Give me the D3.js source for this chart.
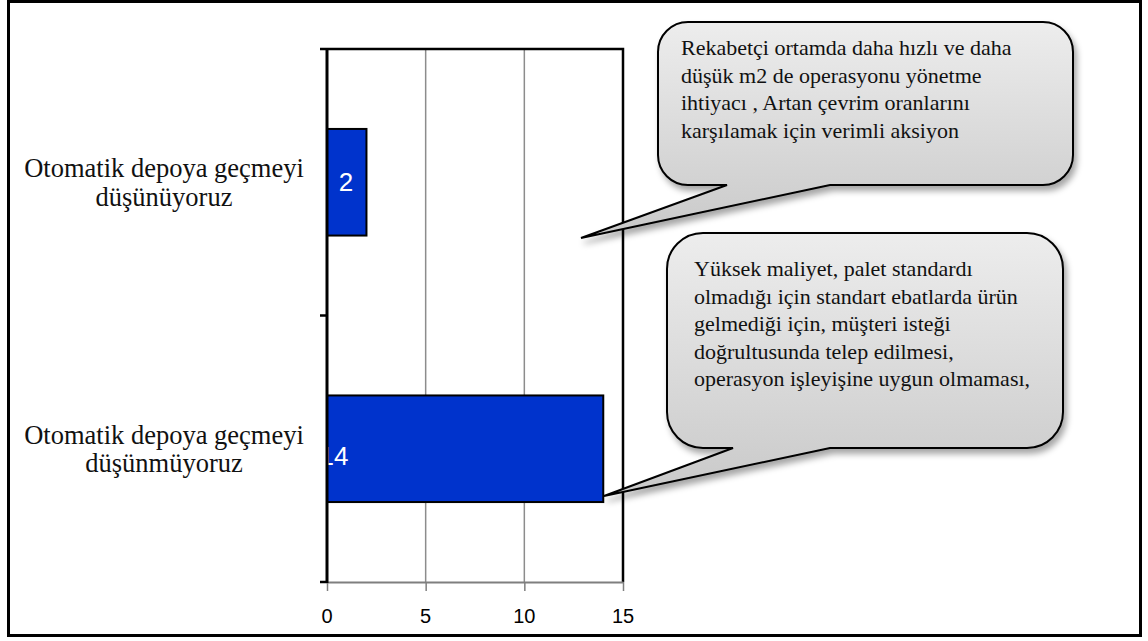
<!DOCTYPE html>
<html>
<head>
<meta charset="utf-8">
<script src="https://cdn.jsdelivr.net/npm/d3@7"></script>
<style>
  html, body { margin: 0; padding: 0; background: #fff; }
  svg { display: block; }
</style>
</head>
<body>
<svg id="chart" width="1148" height="641"></svg>
<script>
// Survey answers: horizontal bar chart with two explanatory callouts
const categories = ["Otomatik depoya geçmeyi düşünüyoruz", "Otomatik depoya geçmeyi düşünmüyoruz"];
const categoryLines = [["Otomatik depoya geçmeyi", "düşünüyoruz"], ["Otomatik depoya geçmeyi", "düşünmüyoruz"]];
const values = [2, 14];
const xTicks = [0, 5, 10, 15];
const calloutTexts = [
  ["Rekabetçi ortamda daha hızlı ve daha", "düşük m2 de operasyonu yönetme", "ihtiyacı , Artan çevrim oranlarını", "karşılamak için verimli aksiyon"],
  ["Yüksek maliyet, palet standardı", "olmadığı için standart ebatlarda ürün", "gelmediği için, müşteri isteği", "doğrultusunda telep edilmesi,", "operasyon işleyişine uygun olmaması,"]
];

const SERIF = "'Liberation Serif', 'Times New Roman', serif";
const SANS = "'Liberation Sans', Arial, sans-serif";
const svg = d3.select("#chart");

// defs: callout gradient and soft shadow
const defs = svg.append("defs");
const grad = defs.append("linearGradient").attr("id", "calloutFill")
  .attr("x1", 0).attr("y1", 0).attr("x2", 0).attr("y2", 1);
grad.append("stop").attr("offset", "0%").attr("stop-color", "#ededed");
grad.append("stop").attr("offset", "100%").attr("stop-color", "#c9c9c9");
const shadow = defs.append("filter").attr("id", "shadow")
  .attr("x", "-10%").attr("y", "-10%").attr("width", "130%").attr("height", "140%");
shadow.append("feDropShadow").attr("dx", 3).attr("dy", 5).attr("stdDeviation", 3)
  .attr("flood-color", "#000").attr("flood-opacity", 0.35);

// outer frame
svg.append("rect").attr("x", 8.5).attr("y", 1.5).attr("width", 1132).attr("height", 634)
  .attr("fill", "#fff").attr("stroke", "#000").attr("stroke-width", 3);

// scales
const plot = { left: 327, right: 623, top: 49, bottom: 582 };
const x = d3.scaleLinear().domain([0, 15]).range([plot.left, plot.right]);
const y = d3.scaleBand().domain(categories).range([plot.top, plot.bottom])
  .paddingInner(0.6).paddingOuter(0.3);

// vertical gridlines
svg.append("g").selectAll("line").data(xTicks.slice(1, -1)).join("line")
  .attr("x1", d => x(d)).attr("x2", d => x(d))
  .attr("y1", plot.top).attr("y2", plot.bottom)
  .attr("stroke", "#8c8c8c").attr("stroke-width", 1.5);

// plot border (top and right)
svg.append("path")
  .attr("d", `M${plot.left},${plot.top}H${plot.right}V${plot.bottom}`)
  .attr("fill", "none").attr("stroke", "#000").attr("stroke-width", 2.5);

// bottom value axis: line and ticks from d3.axisBottom, labels set below
const xAxis = svg.append("g").attr("transform", `translate(0,${plot.bottom})`)
  .call(d3.axisBottom(x).tickValues(xTicks).tickSize(9).tickSizeOuter(0).tickFormat(""));
xAxis.select(".domain").attr("stroke", "#7f7f7f").attr("stroke-width", 2);
xAxis.selectAll(".tick line").attr("stroke", "#7f7f7f").attr("stroke-width", 1.5);
xTicks.forEach(v => {
  svg.append("text")
    .attr("x", x(v)).attr("y", 623)
    .attr("text-anchor", "middle")
    .attr("font-family", SANS).attr("font-size", 20).attr("fill", "#000")
    .text(v);
});

// bars
svg.append("g").selectAll("rect").data(values).join("rect")
  .attr("x", x(0))
  .attr("y", (d, i) => y(categories[i]))
  .attr("width", d => x(d) - x(0))
  .attr("height", y.bandwidth())
  .attr("fill", "#0033cc").attr("stroke", "#000").attr("stroke-width", 2);

// value labels near the base of each bar
const labelNudge = [{ dx: 19, dy: 8.5 }, { dx: 7, dy: 16 }];
values.forEach((v, i) => {
  svg.append("text")
    .attr("x", x(0) + labelNudge[i].dx)
    .attr("y", y(categories[i]) + y.bandwidth() / 2 + labelNudge[i].dy)
    .attr("text-anchor", "middle")
    .attr("font-family", SANS).attr("font-size", 26).attr("fill", "#fff")
    .text(v);
});

// category axis line with ticks at band boundaries
const boundaries = [0, 1, 2].map(k => plot.top + k * y.step());
svg.append("line").attr("x1", x(0)).attr("x2", x(0))
  .attr("y1", plot.top - 1).attr("y2", plot.bottom + 1)
  .attr("stroke", "#000").attr("stroke-width", 3);
svg.append("g").selectAll("line").data(boundaries).join("line")
  .attr("x1", x(0) - 7).attr("x2", x(0))
  .attr("y1", d => d).attr("y2", d => d)
  .attr("stroke", "#000").attr("stroke-width", 2.5);

// category labels
categoryLines.forEach((lines, i) => {
  const cy = y(categories[i]) + y.bandwidth() / 2;
  const t = svg.append("text")
    .attr("text-anchor", "middle")
    .attr("font-family", SERIF).attr("font-size", 26.5).attr("fill", "#111");
  lines.forEach((l, j) => {
    t.append("tspan").attr("x", 164).attr("y", cy - 5 + j * 28.5).text(l);
  });
});

// callouts: rounded box with a pointer from its bottom edge to the bar
const callouts = [
  { box: [658, 22, 1073, 185], r: 30, base: [727, 830], tip: [581, 238], text: [681, 55] },
  { box: [667, 233, 1063, 448], r: 36, base: [733, 830], tip: [604, 496], text: [694, 276] }
];
function calloutPath(c) {
  const [x0, y0, x1, y1] = c.box, r = c.r;
  return `M${x0 + r},${y0}H${x1 - r}A${r},${r} 0 0 1 ${x1},${y0 + r}` +
    `V${y1 - r}A${r},${r} 0 0 1 ${x1 - r},${y1}` +
    `H${c.base[1]}L${c.tip[0]},${c.tip[1]}L${c.base[0]},${y1}` +
    `H${x0 + r}A${r},${r} 0 0 1 ${x0},${y1 - r}V${y0 + r}A${r},${r} 0 0 1 ${x0 + r},${y0}Z`;
}
callouts.forEach((c, i) => {
  svg.append("path").attr("d", calloutPath(c))
    .attr("fill", "url(#calloutFill)").attr("stroke", "#000").attr("stroke-width", 2)
    .attr("filter", "url(#shadow)");
  const t = svg.append("text")
    .attr("font-family", SERIF).attr("font-size", 22).attr("fill", "#111");
  calloutTexts[i].forEach((l, j) => {
    t.append("tspan").attr("x", c.text[0]).attr("y", c.text[1] + j * 27.5).text(l);
  });
});
</script>
</body>
</html>
